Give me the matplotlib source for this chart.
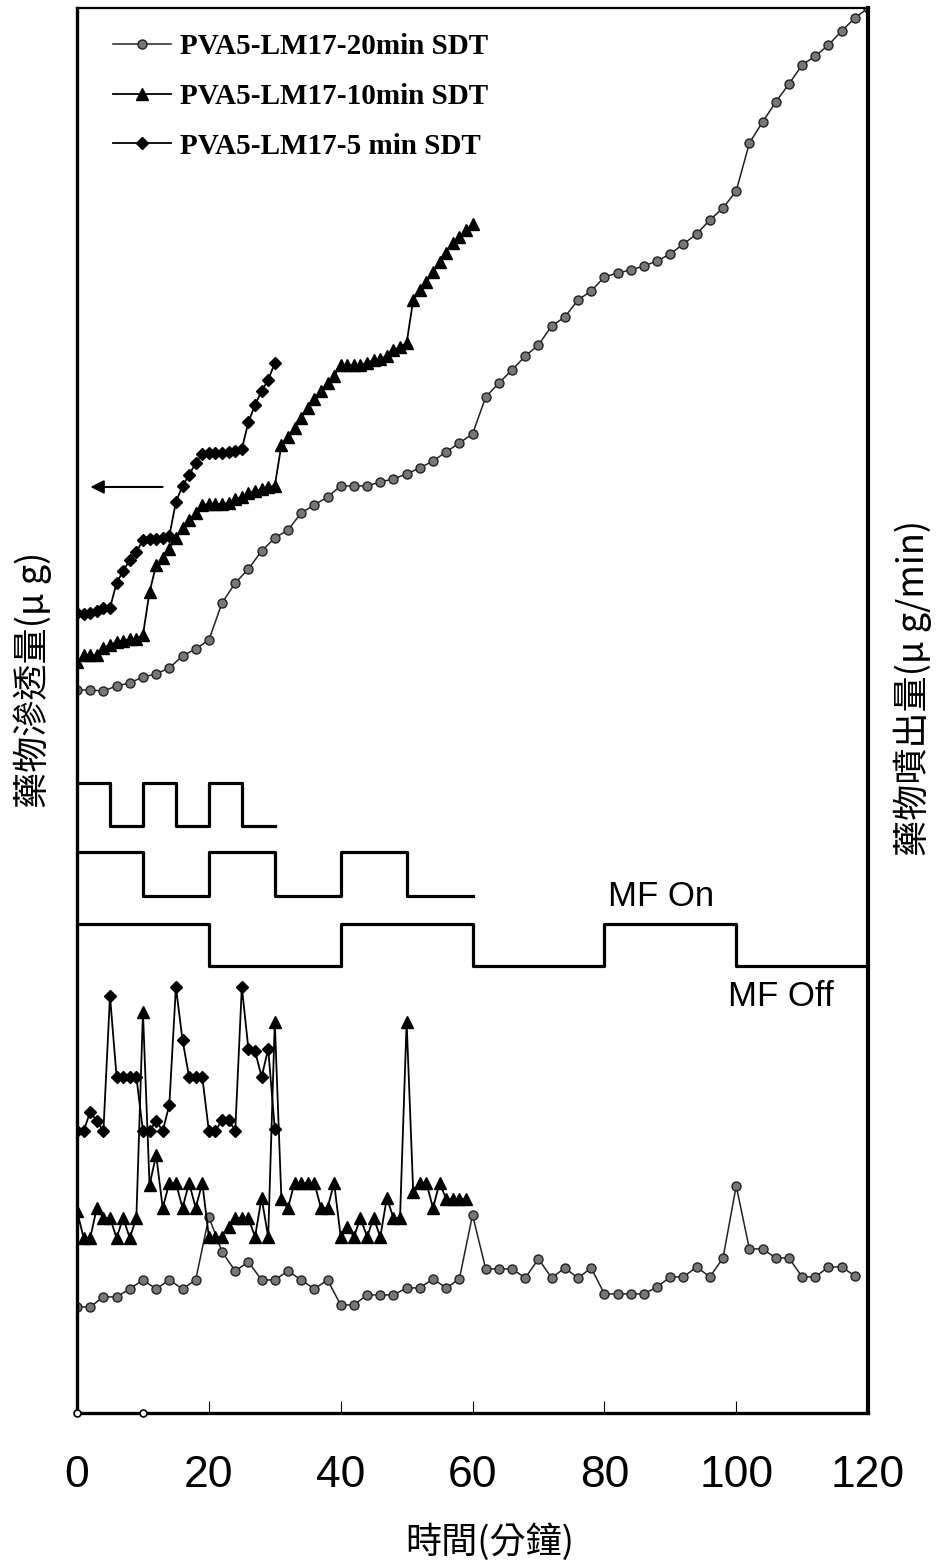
import numpy as np
import matplotlib.pyplot as plt

CJK = ['Noto Sans CJK TC', 'DejaVu Sans']

# cumulative permeation (arbitrary units)
t_20 = np.arange(0, 121, 2)
cum_20 = [72.3, 72.3, 72.2, 72.7, 73.0, 73.6, 73.9, 74.5, 75.7, 76.4,
          77.3, 81.0, 83.0, 84.4, 86.2, 87.5, 88.3, 90.0, 90.8, 91.6,
          92.7, 92.7, 92.7, 93.1, 93.4, 93.9, 94.5, 95.2, 96.1, 97.0,
          97.9, 101.6, 103.0, 104.3, 105.7, 106.8, 108.7, 109.6, 111.3, 112.2,
          113.6, 114.0, 114.3, 114.7, 115.2, 115.9, 116.9, 117.9, 119.3, 120.5,
          122.2, 127.0, 129.1, 131.1, 132.9, 134.8, 135.7, 136.8, 138.2, 139.5,
          140.5]
t_10 = np.arange(0, 61)
cum_10 = [75.1, 75.8, 75.8, 75.8, 76.5, 76.8, 77.1, 77.2, 77.4, 77.4,
          77.8, 82.1, 84.8, 85.5, 86.4, 87.5, 88.5, 89.3, 90.0, 90.8,
          90.9, 90.9, 90.9, 91.0, 91.4, 91.6, 92.0, 92.2, 92.4, 92.6,
          92.7, 96.8, 97.6, 98.5, 99.5, 100.5, 101.4, 102.2, 103.0, 103.7,
          104.8, 104.8, 104.8, 104.8, 105.0, 105.3, 105.4, 105.7, 106.3, 106.6,
          107.0, 111.3, 112.3, 113.1, 114.1, 115.1, 116.0, 117.0, 117.6, 118.3,
          118.9]
t_5 = np.arange(0, 31)
cum_5 = [80.0, 79.9, 80.0, 80.2, 80.5, 80.5, 83.0, 84.2, 85.3, 86.1,
         87.3, 87.4, 87.4, 87.5, 87.7, 91.1, 92.7, 93.8, 95.0, 95.9,
         96.0, 96.0, 96.0, 96.1, 96.2, 96.4, 99.1, 100.8, 102.2, 103.3,
         105.0]

# release rate
tr_20 = np.arange(0, 119, 2)
rate_20 = [10.6, 10.6, 11.6, 11.6, 12.4, 13.3, 12.4, 13.3, 12.4, 13.3,
           19.6, 16.1, 14.2, 15.1, 13.3, 13.3, 14.2, 13.3, 12.4, 13.3,
           10.8, 10.8, 11.8, 11.8, 11.8, 12.5, 12.5, 13.4, 12.5, 13.4,
           19.8, 14.4, 14.4, 14.4, 13.5, 15.4, 13.5, 14.5, 13.5, 14.5,
           11.9, 11.9, 11.9, 11.9, 12.6, 13.6, 13.6, 14.6, 13.6, 15.5,
           22.7, 16.4, 16.4, 15.5, 15.5, 13.6, 13.6, 14.6, 14.6, 13.7]
tr_10 = np.arange(0, 60)
rate_10 = [20.2, 17.5, 17.5, 20.5, 19.5, 19.5, 17.5, 19.5, 17.5, 19.5,
           40.1, 22.8, 25.8, 20.5, 23.0, 23.0, 20.5, 23.0, 20.5, 23.0,
           17.6, 17.6, 17.6, 18.6, 19.5, 19.5, 19.5, 17.6, 21.5, 17.6,
           39.1, 21.4, 20.5, 23.0, 23.0, 23.0, 23.0, 20.5, 20.5, 23.0,
           17.6, 18.6, 17.6, 19.5, 17.6, 19.5, 17.6, 21.5, 19.5, 19.5,
           39.1, 22.1, 23.0, 23.0, 20.5, 23.0, 21.4, 21.4, 21.4, 21.4]
tr_5 = np.arange(0, 31)
rate_5 = [28.2, 28.2, 30.1, 29.2, 28.2, 41.7, 33.6, 33.6, 33.6, 33.6,
          28.2, 28.2, 29.2, 28.2, 30.8, 42.6, 37.3, 33.6, 33.6, 33.6,
          28.2, 28.2, 29.3, 29.3, 28.2, 42.6, 36.4, 36.2, 33.6, 36.4,
          28.4]

# MF on/off switching (edges, level high/low)
sw_5_t = [0, 5, 10, 15, 20, 25, 30]
sw_5_on = [1, 0, 1, 0, 1, 0, 0]
sw_10_t = [0, 10, 20, 30, 40, 50, 60]
sw_10_on = [1, 0, 1, 0, 1, 0, 0]
sw_20_t = [0, 20, 40, 60, 80, 100, 120]
sw_20_on = [1, 0, 1, 0, 1, 0, 0]
sw_levels = {'5': (58.7, 63.0), '10': (51.7, 56.1), '20': (44.7, 48.9)}

fig = plt.figure(figsize=(9.36, 15.68), dpi=100)
ax = fig.add_axes([0.0823, 0.0989, 0.8451, 0.8960])

circ = dict(marker='o', ms=6.5, mfc='#777777', mec='#222222', mew=1.0,
            color='#222222', lw=1.1)
tri = dict(marker='^', ms=8, mfc='black', mec='black', color='black', lw=1.3)
dia = dict(marker='D', ms=6, mfc='black', mec='black', color='black', lw=1.3)

ax.plot(t_20, cum_20, label='PVA5-LM17-20min SDT', **circ)
ax.plot(t_10, cum_10, label='PVA5-LM17-10min SDT', **tri)
ax.plot(t_5, cum_5, label='PVA5-LM17-5 min SDT', **dia)

ax.plot(tr_20, rate_20, **circ)
ax.plot(tr_10, rate_10, **tri)
ax.plot(tr_5, rate_5, **dia)

for key, ts, on in [('5', sw_5_t, sw_5_on), ('10', sw_10_t, sw_10_on),
                    ('20', sw_20_t, sw_20_on)]:
    lo, hi = sw_levels[key]
    ax.step(ts, [hi if s else lo for s in on], where='post',
            color='black', lw=2.3)

ax.text(88.6, 51.6, 'MF On', fontsize=25, family='Liberation Sans',
        ha='center', va='center')
ax.text(106.7, 41.6, 'MF Off', fontsize=25, family='Liberation Sans',
        ha='center', va='center')

ax.annotate('', xy=(1.6, 92.6), xytext=(13.4, 92.6),
            arrowprops=dict(arrowstyle='-|>', color='black', lw=1.5,
                            mutation_scale=20))

ax.plot([0, 10], [0, 0], 'o', ms=5, mfc='white', mec='black', mew=1.2,
        clip_on=False, zorder=5)

ax.set_xlim(0, 120)
ax.set_ylim(0, 140.5)
ax.set_xticks(np.arange(0, 121, 20))
ax.set_yticks([])
ax.tick_params(axis='x', direction='in', length=9, width=0.8, pad=30,
               labelsize=32)
for lab in ax.get_xticklabels():
    lab.set_family('Liberation Sans')
for side, w in [('left', 2.4), ('bottom', 2.4), ('right', 3.0), ('top', 1.6)]:
    ax.spines[side].set_linewidth(w)

ax.set_xlabel('時間(分鐘)', fontsize=26, family=CJK, va='center')
ax.xaxis.set_label_coords(0.522, -0.0918)
ax.set_ylabel('藥物滲透量(μ g)', fontsize=26, family=CJK, va='center',
              ha='center')
ax.yaxis.set_label_coords(-0.0556, 0.5217)
ax.text(1.0569, 0.516, '藥物噴出量(μ g/min)', fontsize=26, family=CJK,
        rotation=90, ha='center', va='center', transform=ax.transAxes)

ax.legend(loc='upper left', bbox_to_anchor=(0.0456, 0.9822), frameon=False,
          borderpad=0, borderaxespad=0, handlelength=2.0, handletextpad=0.3,
          labelspacing=0.78,
          prop=dict(family='Liberation Serif', weight='bold', size=21))

fig.savefig('out.png', dpi=100)
